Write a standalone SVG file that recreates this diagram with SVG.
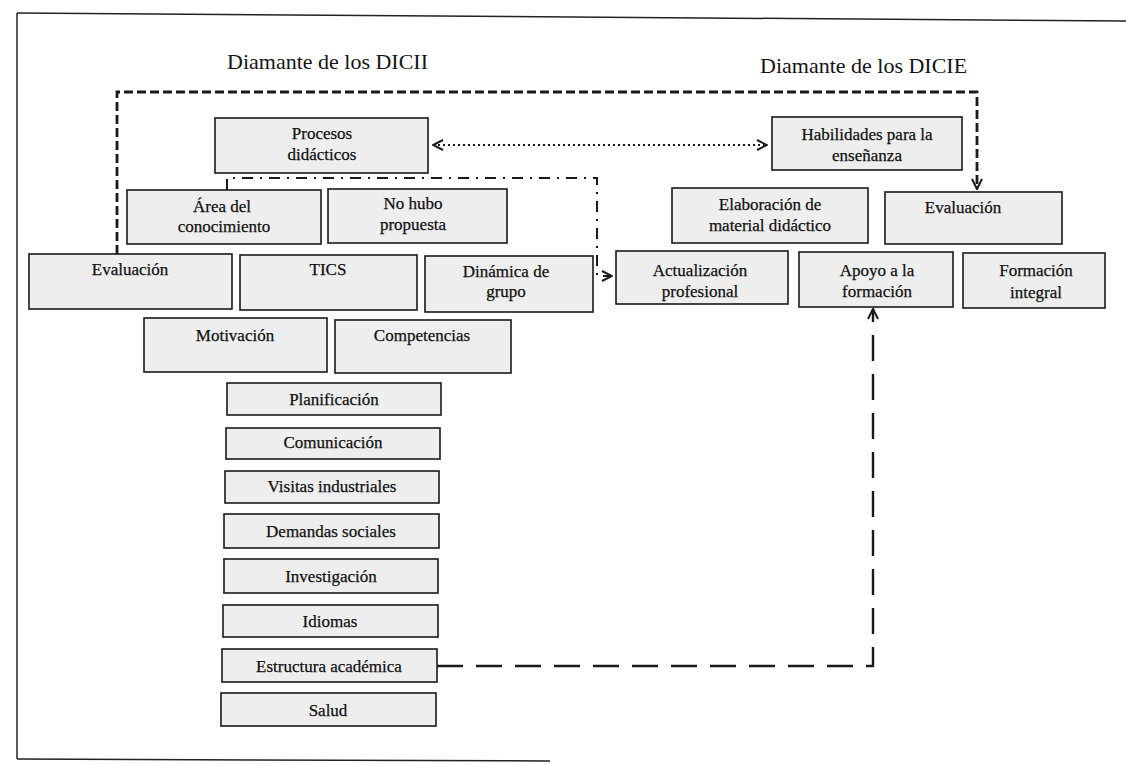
<svg xmlns="http://www.w3.org/2000/svg" width="1126" height="764" viewBox="0 0 1126 764">
<style>
.box{fill:#eeeeee;stroke:#1a1a1a;stroke-width:1.6}
.t{font-family:"Liberation Serif","DejaVu Serif",serif;font-size:17px;fill:#111111;stroke:#111111;stroke-width:0.25;text-anchor:middle}
.title{font-family:"Liberation Serif","DejaVu Serif",serif;font-size:22px;fill:#151515}
.frame{stroke:#222;stroke-width:1.5;fill:none}
.dash{fill:none;stroke:#1a1a1a;stroke-width:2.8;stroke-dasharray:9 4}
.dot{fill:none;stroke:#1a1a1a;stroke-width:1.8;stroke-dasharray:2 3}
.dashdot{fill:none;stroke:#1a1a1a;stroke-width:2;stroke-dasharray:11 7 2 7}
.longdash{fill:none;stroke:#1a1a1a;stroke-width:2.4;stroke-dasharray:26 13}
</style>
<defs>
<marker id="chev" viewBox="0 0 12 12" refX="11" refY="6" markerWidth="12" markerHeight="12" markerUnits="userSpaceOnUse" orient="auto-start-reverse">
<path d="M1,1 L11,6 L1,11" fill="none" stroke="#1a1a1a" stroke-width="2" stroke-dasharray="none"/>
</marker>
</defs>
<rect width="1126" height="764" fill="#ffffff"/>
<g id="frame">
<line class="frame" x1="17" y1="13" x2="1126" y2="21"/>
<line class="frame" x1="17" y1="13" x2="17" y2="759"/>
<line class="frame" x1="17" y1="759" x2="550" y2="761"/>
</g>
<g id="titles">
<text class="title" x="227" y="69">Diamante de los DICII</text>
<text class="title" x="760" y="73">Diamante de los DICIE</text>
</g>
<g id="connectors">
<path class="dash" d="M117,254 L117,92 L977,92 L977,189" marker-end="url(#chev)"/>
<path class="dot" d="M433,145 L767,145" marker-start="url(#chev)" marker-end="url(#chev)"/>
<path class="dashdot" d="M227,190 L227,178 L597,178 L597,276 L612,276" marker-end="url(#chev)"/>
<path class="longdash" d="M437,666 L873,666 L873,309" marker-end="url(#chev)"/>
</g>
<g id="n1"><rect class="box" x="215" y="118" width="213" height="55"/><text class="t" x="322" y="139">Procesos</text><text class="t" x="322" y="160">didácticos</text></g>
<g id="n2"><rect class="box" x="127" y="190" width="194" height="54"/><text class="t" x="222" y="212">Área del</text><text class="t" x="224" y="232">conocimiento</text></g>
<g id="n3"><rect class="box" x="328" y="189" width="179" height="54"/><text class="t" x="413" y="209">No hubo</text><text class="t" x="413" y="230">propuesta</text></g>
<g id="n4"><rect class="box" x="29" y="254" width="203" height="55"/><text class="t" x="130" y="275">Evaluación</text></g>
<g id="n5"><rect class="box" x="240" y="255" width="177" height="55"/><text class="t" x="328" y="275">TICS</text></g>
<g id="n6"><rect class="box" x="425" y="256" width="168" height="56"/><text class="t" x="506" y="277">Dinámica de</text><text class="t" x="506" y="297">grupo</text></g>
<g id="n7"><rect class="box" x="144" y="318" width="183" height="54"/><text class="t" x="235" y="341">Motivación</text></g>
<g id="n8"><rect class="box" x="335" y="320" width="176" height="53"/><text class="t" x="422" y="341">Competencias</text></g>
<g id="n9"><rect class="box" x="227" y="383" width="214" height="32"/><text class="t" x="334" y="405">Planificación</text></g>
<g id="n10"><rect class="box" x="226" y="428" width="214" height="31"/><text class="t" x="333" y="448">Comunicación</text></g>
<g id="n11"><rect class="box" x="225" y="471" width="214" height="32"/><text class="t" x="332" y="492">Visitas industriales</text></g>
<g id="n12"><rect class="box" x="224" y="514" width="215" height="34"/><text class="t" x="331" y="537">Demandas sociales</text></g>
<g id="n13"><rect class="box" x="224" y="559" width="214" height="34"/><text class="t" x="331" y="582">Investigación</text></g>
<g id="n14"><rect class="box" x="223" y="605" width="215" height="32"/><text class="t" x="330" y="627">Idiomas</text></g>
<g id="n15"><rect class="box" x="222" y="649" width="215" height="33"/><text class="t" x="329" y="672">Estructura académica</text></g>
<g id="n16"><rect class="box" x="221" y="693" width="215" height="33"/><text class="t" x="328" y="716">Salud</text></g>
<g id="n17"><rect class="box" x="772" y="117" width="190" height="53"/><text class="t" x="867" y="140">Habilidades para la</text><text class="t" x="867" y="161">enseñanza</text></g>
<g id="n18"><rect class="box" x="672" y="188" width="196" height="55"/><text class="t" x="770" y="210">Elaboración de</text><text class="t" x="770" y="231">material didáctico</text></g>
<g id="n19"><rect class="box" x="885" y="192" width="177" height="52"/><text class="t" x="963" y="213">Evaluación</text></g>
<g id="n20"><rect class="box" x="616" y="251" width="172" height="53"/><text class="t" x="700" y="276">Actualización</text><text class="t" x="700" y="297">profesional</text></g>
<g id="n21"><rect class="box" x="799" y="252" width="154" height="55"/><text class="t" x="877" y="276">Apoyo a la</text><text class="t" x="877" y="297">formación</text></g>
<g id="n22"><rect class="box" x="963" y="253" width="142" height="55"/><text class="t" x="1036" y="276">Formación</text><text class="t" x="1036" y="298">integral</text></g>
</svg>
